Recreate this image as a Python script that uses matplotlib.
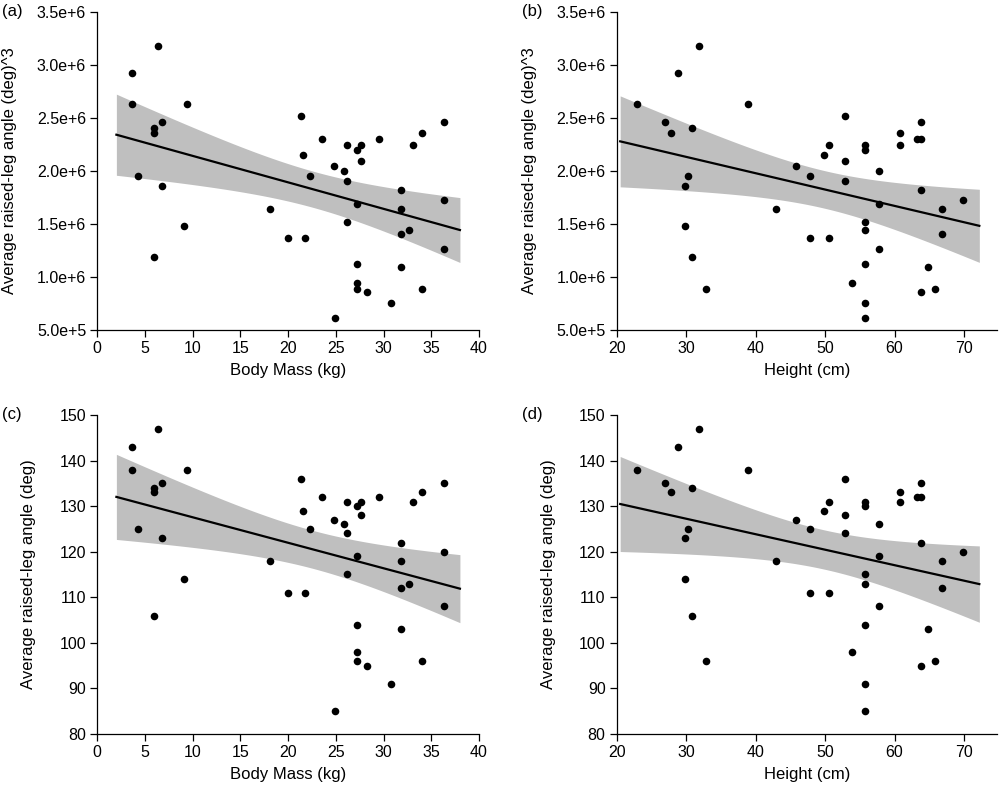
import numpy as np
import matplotlib
matplotlib.use("Agg")
import matplotlib.pyplot as plt

plt.rcParams['font.family'] = ['Liberation Sans', 'DejaVu Sans']

# body mass (kg) and raised-leg angle (deg)
mass = [3.6, 3.6, 4.3, 5.9, 5.9, 5.9, 6.4, 6.8, 6.8, 9.1, 9.4, 18.1, 20.0, 21.3,
        21.6, 21.8, 22.3, 23.5, 24.8, 24.9, 25.9, 26.2, 26.2, 26.2, 27.2, 27.2,
        27.2, 27.2, 27.2, 27.6, 27.6, 28.3, 29.5, 30.8, 31.8, 31.8, 31.8, 31.8,
        32.7, 33.1, 34.0, 34.0, 36.3, 36.3, 36.3]
angle_mass = [143, 138, 125, 134, 133, 106, 147, 135, 123, 114, 138, 118, 111, 136,
              129, 111, 125, 132, 127, 85, 126, 131, 124, 115, 130, 119,
              104, 98, 96, 128, 131, 95, 132, 91, 122, 118, 112, 103,
              113, 131, 133, 96, 135, 120, 108]

# height (cm) and raised-leg angle (deg)
height = [22.9, 26.9, 27.8, 28.8, 29.8, 29.8, 30.3, 30.8, 30.8, 31.9, 32.8, 38.9,
          43.0, 45.8, 47.8, 47.8, 49.8, 50.6, 50.6, 52.8, 52.8, 52.8, 53.8, 55.7,
          55.7, 55.8, 55.8, 55.8, 55.7, 55.8, 57.8, 57.8, 57.8, 60.8, 60.8, 63.2,
          63.8, 63.8, 63.8, 63.8, 64.8, 65.8, 66.8, 66.8, 69.8]
angle_height = [138, 135, 133, 143, 123, 114, 125, 134, 106, 147, 96, 138,
                118, 127, 125, 111, 129, 131, 111, 136, 128, 124, 98, 131,
                130, 115, 113, 104, 91, 85, 126, 119, 108, 133, 131, 132,
                132, 135, 122, 95, 103, 96, 118, 112, 120]

cube_ticks = [5e5, 1e6, 1.5e6, 2e6, 2.5e6, 3e6, 3.5e6]
cube_labels = ['5.0e+5', '1.0e+6', '1.5e+6', '2.0e+6', '2.5e+6', '3.0e+6', '3.5e+6']
deg_ticks = [80, 90, 100, 110, 120, 130, 140, 150]

T975 = 2.0167  # t quantile, 43 df


def fit_band(x, y, xs):
    x = np.asarray(x, float)
    y = np.asarray(y, float)
    n = len(x)
    xm, ym = x.mean(), y.mean()
    sxx = ((x - xm) ** 2).sum()
    b = ((x - xm) * (y - ym)).sum() / sxx
    a = ym - b * xm
    s = np.sqrt(((y - a - b * x) ** 2).sum() / (n - 2))
    se = s * np.sqrt(1 / n + (xs - xm) ** 2 / sxx)
    fit = a + b * xs
    return fit, fit - T975 * se, fit + T975 * se


def panel(rect, x, y, xr, xlim, xticks, ylim, yticks, ylabels, xlabel, ylabel, ylab_x, tag):
    ax = fig.add_axes(rect)
    xs = np.linspace(xr[0], xr[1], 100)
    fit, lo, hi = fit_band(x, y, xs)
    ax.fill_between(xs, lo, hi, color='#bfbfbf', lw=0, zorder=1)
    ax.plot(xs, fit, color='black', lw=1.6, zorder=2)
    ax.scatter(x, y, s=30, color='black', zorder=3, linewidths=0)
    ax.set_xlim(*xlim)
    ax.set_ylim(*ylim)
    ax.set_xticks(xticks)
    ax.set_yticks(yticks)
    ax.set_yticklabels(ylabels)
    for s in ['top', 'right']:
        ax.spines[s].set_visible(False)
    for s in ['left', 'bottom']:
        ax.spines[s].set_linewidth(0.9)
    ax.spines['left'].set_bounds(yticks[0], yticks[-1])
    ax.tick_params(direction='out', length=5, width=0.9, labelsize=11.5, pad=3)
    ax.set_xlabel(xlabel, fontsize=12)
    ax.xaxis.set_label_coords(0.5, -0.105)
    ax.set_ylabel(ylabel, fontsize=12)
    ax.yaxis.set_label_coords(ylab_x, 0.5)
    l, b, w, h = rect
    fig.text(l - 0.095, b + h, tag, fontsize=12, ha='left', va='center')
    return ax


fig = plt.figure(figsize=(10, 7.88), dpi=100)

m3 = [v ** 3 for v in angle_mass]
h3 = [v ** 3 for v in angle_height]

top_b, top_h = 1 - 330 / 788, (330 - 11.7) / 788
bot_b, bot_h = 1 - 734 / 788, (734 - 415) / 788

panel([0.0973, top_b, 0.3817, top_h], mass, m3, (2, 38), (0, 40), range(0, 41, 5),
      (5e5, 3.5e6), cube_ticks, cube_labels, 'Body Mass (kg)',
      'Average raised-leg angle (deg)^3', -0.21, '(a)')
panel([0.6167, top_b, 0.380, top_h], height, h3, (20.5, 72.2), (20, 74.7), range(20, 71, 10),
      (5e5, 3.5e6), cube_ticks, cube_labels, 'Height (cm)',
      'Average raised-leg angle (deg)^3', -0.21, '(b)')
panel([0.0973, bot_b, 0.3817, bot_h], mass, angle_mass, (2, 38), (0, 40), range(0, 41, 5),
      (80, 150), deg_ticks, [str(v) for v in deg_ticks], 'Body Mass (kg)',
      'Average raised-leg angle (deg)', -0.16, '(c)')
panel([0.6167, bot_b, 0.380, bot_h], height, angle_height, (20.5, 72.2), (20, 74.7), range(20, 71, 10),
      (80, 150), deg_ticks, [str(v) for v in deg_ticks], 'Height (cm)',
      'Average raised-leg angle (deg)', -0.16, '(d)')

fig.savefig('out.png', dpi=100)
